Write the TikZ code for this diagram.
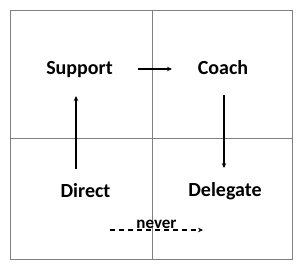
\documentclass[tikz,border=0pt]{standalone}
\usepackage{fontspec}
\setmainfont{Carlito}
\usetikzlibrary{arrows.meta}
\begin{document}
\begin{tikzpicture}[x=1pt, y=1pt,
  lbl/.style={font=\bfseries\fontsize{20}{24}\selectfont, anchor=base, inner sep=0pt},
  grid/.style={draw=black!50, line width=0.8pt},
  arr/.style={-{Stealth[length=5pt, width=4.5pt]}, line width=1.1pt}]

\useasboundingbox (0,0) rectangle (300,270);

% --- Quadrant frame ---
\draw[grid] (10,11) rectangle (292,260);
\draw[grid] (152,11) -- (152,260);
\draw[grid] (10,132) -- (292,132);

% --- Labels ---
\node[lbl] (support) at (79.5,195) {Support};
\node[lbl] (coach) at (223,195) {Coach};
\node[lbl] (direct) at (85.5,72) {Direct};
\node[lbl] (delegate) at (225,73) {Delegate};

% --- Arrow ends ---
\coordinate (sc-a) at (138,201);
\coordinate (sc-b) at (172,201);
\coordinate (cd-a) at (224,175);
\coordinate (cd-b) at (224,102);
\coordinate (ds-a) at (76,101);
\coordinate (ds-b) at (76,174);
\coordinate (nv-a) at (110,40);
\coordinate (nv-b) at (203,40);

% --- Cycle ---
\draw[arr] (sc-a) -- (sc-b);
\draw[arr] (cd-a) -- (cd-b);
\draw[arr] (ds-a) -- (ds-b);

% --- Skipped step ---
\draw[arr, dash pattern=on 5pt off 4pt] (nv-a) -- (nv-b)
  node[midway, above=1pt, font=\bfseries\fontsize{17}{20}\selectfont, inner sep=0pt] (never) {never};

\end{tikzpicture}
\end{document}
